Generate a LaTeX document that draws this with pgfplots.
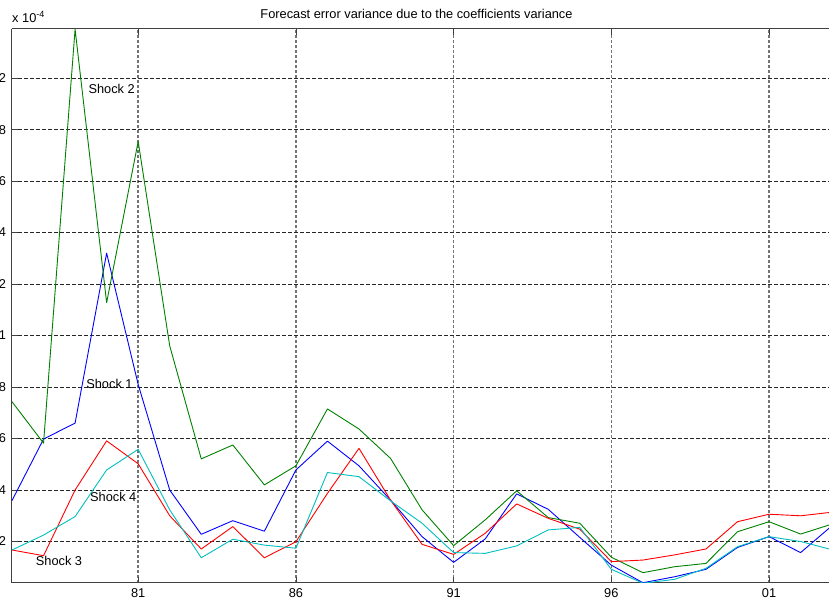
\documentclass[border=0pt]{standalone}
\usepackage{fontspec}
\setmainfont{Liberation Sans}
\usepackage{pgfplots}
\pgfplotsset{compat=1.18}
\definecolor{mblue}{RGB}{0,0,255}
\definecolor{mgreen}{RGB}{0,128,0}
\definecolor{mred}{RGB}{255,0,0}
\definecolor{mcyan}{RGB}{0,191,191}

\pgfplotstableread{
x s1 s2 s3 s4
1977 0.359 0.743 0.167 0.167
1978 0.598 0.582 0.145 0.225
1979 0.660 2.190 0.400 0.297
1980 1.320 1.128 0.591 0.478
1981 0.810 1.754 0.502 0.558
1982 0.400 0.960 0.300 0.323
1983 0.228 0.521 0.171 0.137
1984 0.281 0.575 0.258 0.209
1985 0.240 0.420 0.137 0.186
1986 0.478 0.494 0.199 0.174
1987 0.590 0.715 0.387 0.468
1988 0.494 0.637 0.562 0.452
1989 0.361 0.523 0.361 0.358
1990 0.219 0.323 0.189 0.271
1991 0.119 0.184 0.150 0.157
1992 0.210 0.284 0.232 0.154
1993 0.385 0.397 0.346 0.183
1994 0.325 0.293 0.290 0.245
1995 0.216 0.271 0.248 0.255
1996 0.108 0.139 0.122 0.092
1997 0.040 0.079 0.128 0.038
1998 0.063 0.102 0.148 0.053
1999 0.092 0.115 0.171 0.096
2000 0.177 0.238 0.277 0.180
2001 0.219 0.277 0.306 0.219
2002 0.157 0.229 0.300 0.200
2003 0.262 0.268 0.314 0.168
}\datatable

\begin{document}
\fontsize{12.8bp}{15bp}\selectfont
\begin{tikzpicture}
\begin{axis}[
  scale only axis, width=817bp, height=554bp,
  xmin=1977, xmax=2002.9, ymin=0.0389, ymax=2.1908,
  axis y line*=left,
  axis line style={black!75, line width=1bp, -},
  xtick={1981,1986,1991,1996,2001},
  xticklabels={81,86,91,96,01},
  ytick={0.2,0.4,0.6,0.8,1.0,1.2,1.4,1.6,1.8,2.0},
  yticklabels={2,4,6,8,1,2,4,6,8,2},
  tick align=inside,
  major tick length=6bp,
  tick style={black!75, line width=0.8bp},
  xmajorgrids, ymajorgrids,
  x grid style={black!55, line width=1.4bp, dash pattern=on 3bp off 2bp},
  y grid style={black!85, line width=0.9bp, dash pattern=on 4bp off 2bp},
  xticklabel style={font=\fontsize{12.8bp}{15bp}\selectfont, yshift=-1.5bp},
  yticklabel style={font=\fontsize{12.8bp}{15bp}\selectfont, xshift=-1.5bp},
  every axis plot/.append style={line width=0.9bp, line join=round},
]
\addplot[mblue] table[x=x, y=s1] {\datatable};
\addplot[mgreen] table[x=x, y=s2] {\datatable};
\addplot[mred] table[x=x, y=s3] {\datatable};
\addplot[mcyan] table[x=x, y=s4] {\datatable};
\node[anchor=base west, inner sep=0pt] at (axis cs:1979.42,1.942) {Shock 2};
\node[anchor=base west, inner sep=0pt] at (axis cs:1979.35,0.793) {Shock 1};
\node[anchor=base west, inner sep=0pt] at (axis cs:1979.47,0.355) {Shock 4};
\node[anchor=base west, inner sep=0pt] at (axis cs:1977.75,0.106) {Shock 3};
\coordinate (bl) at (rel axis cs:0,0);
\coordinate (tl) at (rel axis cs:0,1);
\coordinate (tr) at (rel axis cs:1,1);
\end{axis}
\node[anchor=base, inner sep=0pt] at ([shift={(404.5bp,10bp)}]tl) {Forecast error variance due to the coefficients variance};
\node[anchor=base west, inner sep=0pt] at ([shift={(0bp,6.5bp)}]tl) {x 10\raisebox{5bp}{\fontsize{9bp}{10bp}\selectfont -4}};
\pgfresetboundingbox
\path[use as bounding box] ([shift={(-12bp,-21bp)}]bl) rectangle ([shift={(0bp,29bp)}]tr);
\end{tikzpicture}
\end{document}
